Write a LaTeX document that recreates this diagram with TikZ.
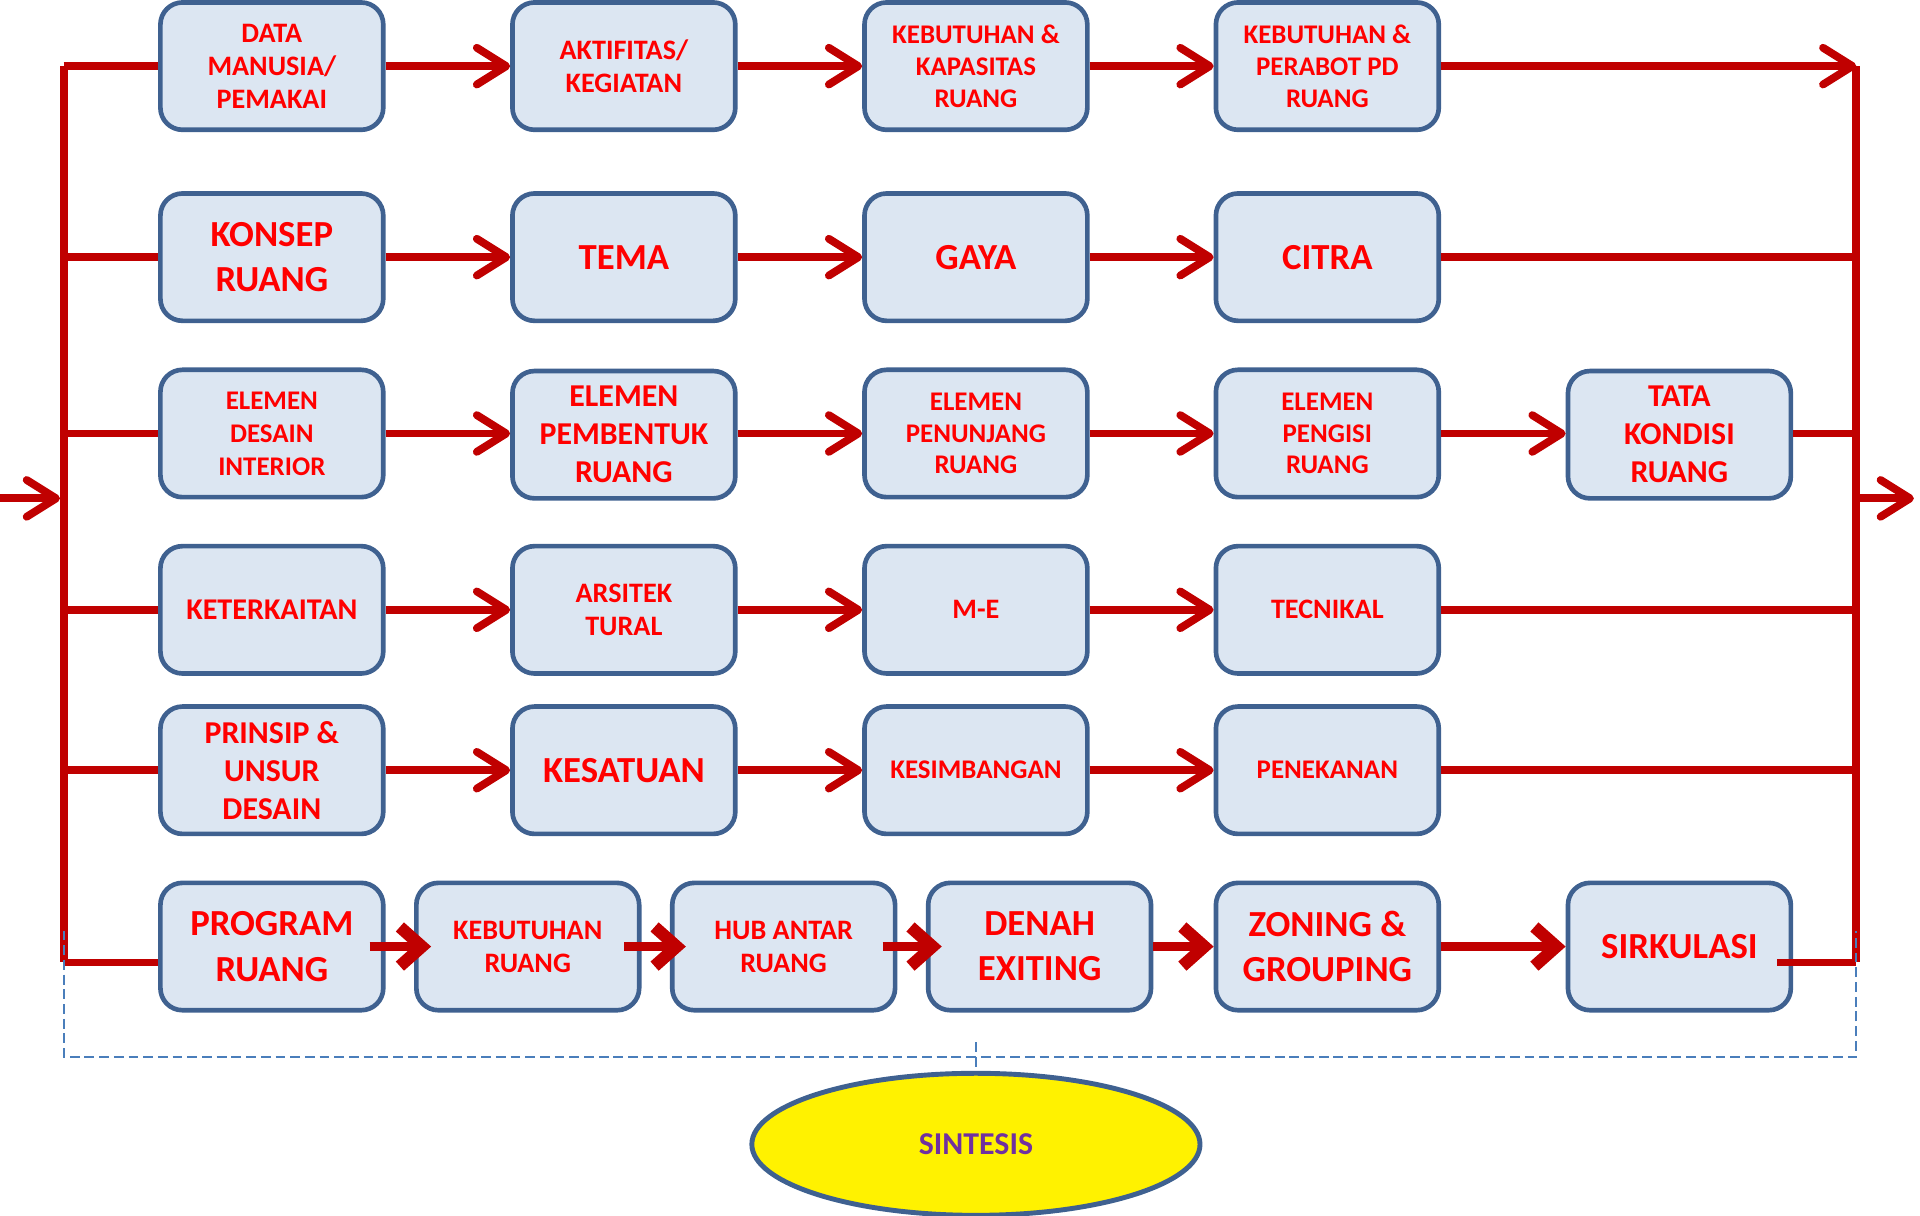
\documentclass[tikz,border=0pt]{standalone}
\usepackage{fontspec}
\setmainfont{Carlito}
\usetikzlibrary{arrows.meta,shapes.geometric}
\definecolor{lred}{HTML}{C00000}
\definecolor{tred}{HTML}{FF0000}
\definecolor{bfill}{HTML}{DCE6F2}
\definecolor{bdraw}{HTML}{3F6190}
\definecolor{dashc}{HTML}{4A7EBB}
\definecolor{purp}{HTML}{7030A0}
\tikzset{
 box/.style={draw=bdraw, fill=bfill, line width=1.9pt, rounded corners=9pt, minimum width=91pt, minimum height=52pt, inner sep=0pt, align=center, text=tred},
 fxs/.style={font=\bfseries\fontsize{11}{13}\selectfont},
 fxt/.style={font=\bfseries\fontsize{11}{13.5}\selectfont},
 fs/.style={font=\bfseries\fontsize{11.5}{13.5}\selectfont},
 fm/.style={font=\bfseries\fontsize{13}{15.5}\selectfont},
 fl/.style={font=\bfseries\fontsize{15}{18.5}\selectfont},
 wire/.style={draw=lred, line width=3.2pt},
 arr/.style={wire, -{Straight Barb[length=12pt,width=15pt,round]}},
 arrb/.style={draw=lred, line width=4pt, -{Straight Barb[length=9pt,width=16pt,line width=5pt]}},
 dsh/.style={draw=dashc, line width=0.8pt, dash pattern=on 4pt off 2pt},
}
\begin{document}
\begin{tikzpicture}[x=0.5pt,y=-0.5pt]
\useasboundingbox (0,0) rectangle (1568,993);
% bus coordinates
\coordinate (L1) at (52,54);
\coordinate (L2) at (52,210);
\coordinate (L3) at (52,354);
\coordinate (L4) at (52,498);
\coordinate (L5) at (52,629);
\coordinate (L6) at (52,786);
\coordinate (R1) at (1516,54);
\coordinate (R2) at (1516,210);
\coordinate (R3) at (1516,354);
\coordinate (R4) at (1516,498);
\coordinate (R5) at (1516,629);
\coordinate (R6) at (1516,786);
\coordinate (inS) at (0,407);
\coordinate (inE) at (49,407);
\coordinate (outE) at (1563,407);
\coordinate (RO) at (1516,407);
% buses
\draw[wire] (L1) -- (L6);
\draw[wire] (R1) -- (R6);
\draw[arr] (inS) -- (inE);
\draw[arr] (RO) -- (outE);
% nodes
\node[box,fs] (n11) at (222,54) {DATA\\MANUSIA/\\PEMAKAI};
\node[box,fs] (n12) at (509.5,54) {AKTIFITAS/\\KEGIATAN};
\node[box,fxs] (n13) at (797,54) {KEBUTUHAN \&\\KAPASITAS\\RUANG};
\node[box,fxs] (n14) at (1084,54) {KEBUTUHAN \&\\PERABOT PD\\RUANG};

\node[box,fl] (n21) at (222,210) {KONSEP\\RUANG};
\node[box,fl] (n22) at (509.5,210) {TEMA};
\node[box,fl] (n23) at (797,210) {GAYA};
\node[box,fl] (n24) at (1084,210) {CITRA};

\node[box,fxt] (n31) at (222,354) {ELEMEN\\DESAIN\\INTERIOR};
\node[box,fm] (n32) at (509.5,355) {ELEMEN\\PEMBENTUK\\RUANG};
\node[box,fxs] (n33) at (797,354) {ELEMEN\\PENUNJANG\\RUANG};
\node[box,fxs] (n34) at (1084,354) {ELEMEN\\PENGISI\\RUANG};
\node[box,fm] (n35) at (1371.5,355) {TATA\\KONDISI\\RUANG};

\node[box,font=\bfseries\fontsize{12.3}{14}\selectfont] (n41) at (222,498) {KETERKAITAN};
\node[box,fs] (n42) at (509.5,498) {ARSITEK\\TURAL};
\node[box,fs] (n43) at (797,498) {M-E};
\node[box,fs] (n44) at (1084,498) {TECNIKAL};

\node[box,fm] (n51) at (222,629) {PRINSIP \&\\UNSUR\\DESAIN};
\node[box,fl] (n52) at (509.5,629) {KESATUAN};
\node[box,fxs] (n53) at (797,629) {KESIMBANGAN};
\node[box,fxs] (n54) at (1084,629) {PENEKANAN};

\node[box,fl] (n61) at (222,773) {PROGRAM\\RUANG};
\node[box,fs] (n62) at (431,773) {KEBUTUHAN\\RUANG};
\node[box,fs] (n63) at (640,773) {HUB ANTAR\\RUANG};
\node[box,fl] (n64) at (849,773) {DENAH\\EXITING};
\node[box,fl] (n65) at (1084,773) {ZONING \&\\GROUPING};
\node[box,fl] (n66) at (1371.5,773) {SIRKULASI};

\node[ellipse, draw=bdraw, fill=yellow, line width=2pt, minimum width=183pt, minimum height=58pt, inner sep=0pt, text=purp, font=\bfseries\fontsize{13}{15}\selectfont] (sint) at (797,934.5) {SINTESIS};

% left feeders
\draw[wire] (L1) -- (n11.west);
\draw[wire] (L2) -- (n21.west);
\draw[wire] (L3) -- (n31.west);
\draw[wire] (L4) -- (n41.west);
\draw[wire] (L5) -- (n51.west);
\draw[wire] (L6) -- (n61.west |- L6);
% row arrows
\draw[arr] (n11.east) -- (n12.west);
\draw[arr] (n12.east) -- (n13.west);
\draw[arr] (n13.east) -- (n14.west);
\draw[arr] (n14.east) -- (R1);
\draw[arr] (n21.east) -- (n22.west);
\draw[arr] (n22.east) -- (n23.west);
\draw[arr] (n23.east) -- (n24.west);
\draw[wire] (n24.east) -- (R2);
\draw[arr] (n31.east |- L3) -- (n32.west |- L3);
\draw[arr] (n32.east |- L3) -- (n33.west |- L3);
\draw[arr] (n33.east) -- (n34.west);
\draw[arr] (n34.east) -- (n35.west |- L3);
\draw[wire] (n35.east |- R3) -- (R3);
\draw[arr] (n41.east) -- (n42.west);
\draw[arr] (n42.east) -- (n43.west);
\draw[arr] (n43.east) -- (n44.west);
\draw[wire] (n44.east) -- (R4);
\draw[arr] (n51.east) -- (n52.west);
\draw[arr] (n52.east) -- (n53.west);
\draw[arr] (n53.east) -- (n54.west);
\draw[wire] (n54.east) -- (R5);
% bottom row arrows
\draw[arrb] ([xshift=-6.5pt]n61.east) -- ([xshift=7pt]n62.west);
\draw[arrb] ([xshift=-7pt]n62.east) -- ([xshift=6.5pt]n63.west);
\draw[arrb] ([xshift=-6pt]n63.east) -- ([xshift=6.5pt]n64.west);
\draw[arrb] (n64.east) -- (n65.west);
\draw[arrb] (n65.east) -- (n66.west);
\draw[wire] ([xshift=-6.5pt]n66.east |- R6) -- (R6);
% dashed bracket
\coordinate (D1) at (52,760);
\coordinate (D2) at (52,863);
\coordinate (D3) at (1516,863);
\coordinate (D4) at (1516,760);
\coordinate (DT) at (797,851);
\draw[dsh] (D1) -- (D2) -- (D3) -- (D4);
\draw[dsh] (DT) -- (sint.north);
\end{tikzpicture}
\end{document}
